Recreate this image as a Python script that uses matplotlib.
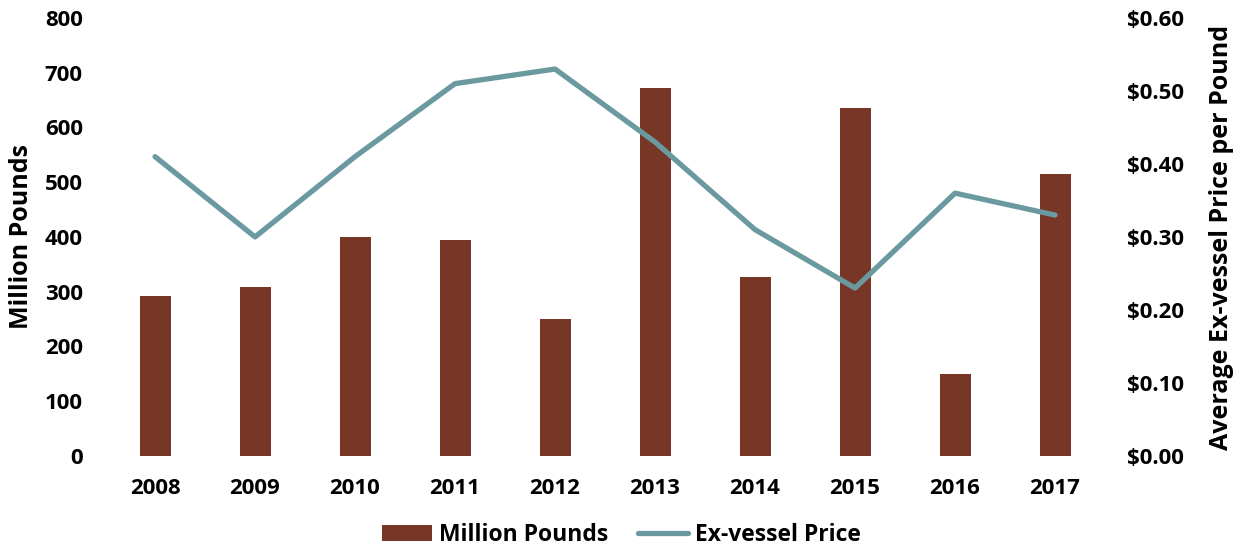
import numpy as np
import matplotlib
matplotlib.use('Agg')
import matplotlib.pyplot as plt
from matplotlib.ticker import FuncFormatter

plt.rcParams['font.family'] = ['Open Sans', 'DejaVu Sans']
plt.rcParams['font.weight'] = 'bold'

years = ['2008', '2009', '2010', '2011', '2012', '2013', '2014', '2015', '2016', '2017']
million_pounds = [292, 309, 400, 394, 250, 672, 327, 636, 150, 515]
ex_vessel_price = [0.41, 0.30, 0.41, 0.51, 0.53, 0.43, 0.31, 0.23, 0.36, 0.33]

bar_color = '#773626'
line_color = '#6a9a9f'

fig = plt.figure(figsize=(12.43, 5.5), dpi=100)
ax = fig.add_axes([0.0845, 0.171, 0.8045, 0.7964])
x = np.arange(len(years))

b = ax.bar(x, million_pounds, width=0.31, color=bar_color, label='Million Pounds')
ax.set_xlim(-0.5, len(years) - 0.5)
ax.set_ylim(0, 800)
ax.set_yticks(range(0, 801, 100))
ax.set_xticks(x)
ax.set_xticklabels(years)
ax.set_ylabel('Million Pounds', fontsize=18, fontweight='bold', labelpad=8)
for s in ax.spines.values():
    s.set_visible(False)
ax.tick_params(length=0, labelsize=16, pad=16)
ax.tick_params(axis='y', pad=16)

ax2 = ax.twinx()
l, = ax2.plot(x, ex_vessel_price, color=line_color, lw=3.8, label='Ex-vessel Price',
              solid_capstyle='round')
ax2.set_ylim(0, 0.6)
ax2.set_yticks(np.arange(0, 0.61, 0.1))
ax2.yaxis.set_major_formatter(FuncFormatter(lambda v, p: '${:.2f}'.format(v)))
ax2.set_ylabel('Average Ex-vessel Price per Pound', fontsize=18, fontweight='bold', labelpad=18)
for s in ax2.spines.values():
    s.set_visible(False)
ax2.tick_params(length=0, labelsize=16, pad=16)

fig.legend([b, l], ['Million Pounds', 'Ex-vessel Price'], loc='lower center',
           bbox_to_anchor=(0.5, -0.032), ncol=2, frameon=False, fontsize=16.5,
           handlelength=2.2, columnspacing=1.3, handletextpad=0.3)

fig.savefig('out.png', dpi=100)
